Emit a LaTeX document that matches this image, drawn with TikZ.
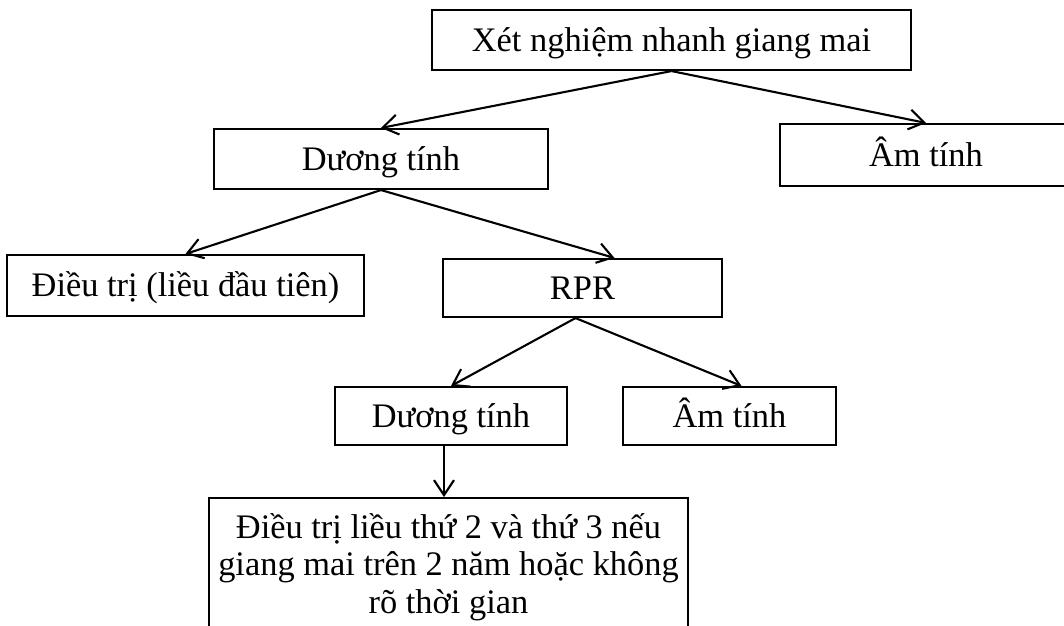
\documentclass[tikz,border=0pt]{standalone}
\usepackage{fontspec}
\setmainfont{Liberation Serif}
\usetikzlibrary{arrows.meta,calc}
\begin{document}
\begin{tikzpicture}[x=1pt,y=-1pt,
  txt/.style={font=\fontsize{34.4}{37}\selectfont},
  box/.style={txt, draw=black, line width=2.1pt, rectangle, inner sep=0pt, text height=22.8pt, text depth=0pt},
  conn/.style={line width=2.1pt, -{Straight Barb[length=15pt,width=20pt]}}]
\useasboundingbox (0,0) rectangle (1064,625);
\clip (0,0) rectangle (1064,625);
\node[box, minimum width=479pt, minimum height=60pt] (top) at (671.5,40) {Xét nghiệm nhanh giang mai};
\node[box, minimum width=292pt, minimum height=62pt] (am1) at (926,155) {Âm tính};
\node[box, minimum width=334pt, minimum height=60pt] (dt1) at (381,159) {Dương tính};
\node[box, minimum width=357pt, minimum height=61pt] (dtr) at (185.5,285.5) {Điều trị (liều đầu tiên)};
\node[box, minimum width=279pt, minimum height=58pt] (rpr) at (582.5,288) {RPR};
\node[box, minimum width=232pt, minimum height=58pt] (dt2) at (451,416) {Dương tính};
\node[box, minimum width=213pt, minimum height=58pt] (am2) at (729.5,416) {Âm tính};
\node[box, minimum width=479pt, minimum height=170pt, anchor=north] (bot) at (448.5,497) {};
\node[txt, anchor=base, inner sep=0pt] (bottxt) at (448.5,538) {\parbox[t]{479pt}{\centering\fontsize{34.4}{37.5}\selectfont Điều trị liều thứ 2 và thứ 3 nếu\\ giang mai trên 2 năm hoặc không\\ rõ thời gian}};
\coordinate (rprout) at ($(rpr.south)+(-7,0)$);
\coordinate (rprin) at ($(rpr.north)+(32,0)$);
\coordinate (am2in) at ($(am2.north)+(12,0)$);
\coordinate (dt2out) at ($(dt2.south)+(-7,0)$);
\draw[conn] (top.south) -- (dt1.north);
\draw[conn] (top.south) -- (am1.north);
\draw[conn] (dt1.south) -- (dtr.north);
\draw[conn] (dt1.south) -- (rprin);
\draw[conn] (rprout) -- (dt2.north);
\draw[conn] (rprout) -- (am2in);
\draw[conn] (dt2out) -- (dt2out |- bot.north);
\end{tikzpicture}
\end{document}
